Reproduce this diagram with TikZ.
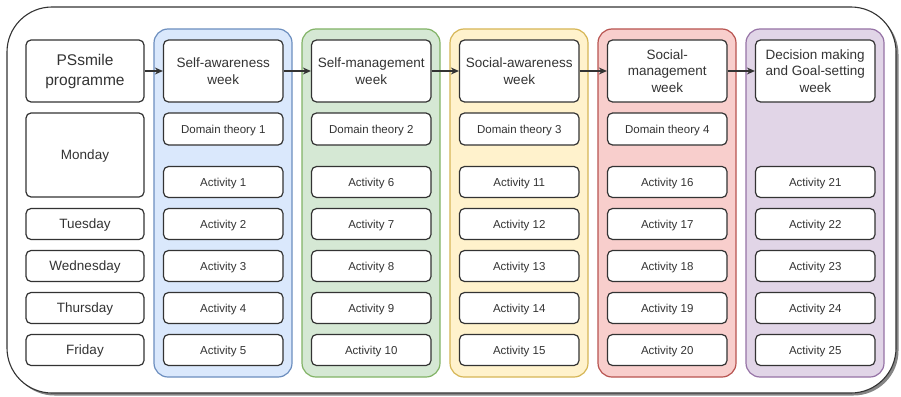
\documentclass[tikz,border=0pt]{standalone}
\usepackage{fontspec}
\setmainfont{Liberation Sans}
\usetikzlibrary{arrows.meta,shadows}
\definecolor{ink}{HTML}{333333}
\definecolor{blueF}{HTML}{DAE8FC}\definecolor{blueD}{HTML}{6C8EBF}
\definecolor{greenF}{HTML}{D5E8D4}\definecolor{greenD}{HTML}{82B366}
\definecolor{yellowF}{HTML}{FFF2CC}\definecolor{yellowD}{HTML}{D6B656}
\definecolor{redF}{HTML}{F8CECC}\definecolor{redD}{HTML}{B85450}
\definecolor{purpleF}{HTML}{E1D5E7}\definecolor{purpleD}{HTML}{9673A6}
\tikzset{
  frame/.style={draw=ink, line width=1.1pt, fill=white, rounded corners=45pt,
    drop shadow={shadow xshift=2.5pt, shadow yshift=-2.5pt, opacity=0.6, fill=black!80}},
  lane/.style={line width=1.2pt, rounded corners=14pt},
  cell/.style={draw=ink, line width=1.2pt, fill=white, rounded corners=5pt,
    inner sep=0pt, align=center, text=ink},
  daybox/.style={cell, minimum width=118pt, text height=9.7pt, text depth=0pt,
    font=\fontsize{13.5}{16.8}\selectfont},
  progbox/.style={cell, minimum width=118pt, minimum height=62pt, font=\fontsize{15.5}{20}\selectfont},
  weekbox/.style={cell, minimum width=119.5pt, minimum height=62pt, font=\fontsize{13.5}{16.7}\selectfont},
  actbox/.style={cell, minimum width=119.5pt, minimum height=31pt, text height=8.2pt, text depth=0pt,
    font=\fontsize{11.5}{14}\selectfont},
  arr/.style={draw=ink, line width=1.2pt, -{Stealth[length=8pt,width=7pt]}}
}
\begin{document}
\begin{tikzpicture}[x=1pt, y=-1pt]
\useasboundingbox (0,0) rectangle (901,396);

% outer frame
\path[frame] (7,7) rectangle (896,393);

% coloured lanes, one per week
\foreach \k/\f/\d in {0/blueF/blueD, 1/greenF/greenD, 2/yellowF/yellowD, 3/redF/redD, 4/purpleF/purpleD}{
  \path[lane, fill=\f, draw=\d] ({154+148*\k},29) rectangle ({292+148*\k},377);
}

% left column: programme and weekdays
\node[progbox] (prog) at (85,71) {PSsmile\\programme};
\node[daybox, minimum height=84pt] (mon) at (85,155) {Monday};
\node[daybox, minimum height=31pt] (tue) at (85,224) {Tuesday};
\node[daybox, minimum height=31pt] (wed) at (85,266) {Wednesday};
\node[daybox, minimum height=31pt] (thu) at (85,308) {Thursday};
\node[daybox, minimum height=31pt] (fri) at (85,350) {Friday};

% week headers
\node[weekbox] (week1) at (223.25,71) {Self-awareness\\week};
\node[weekbox] (week2) at (371.25,71) {Self-management\\week};
\node[weekbox] (week3) at (519.25,71) {Social-awareness\\week};
\node[weekbox] (week4) at (667.25,71) {Social-\\management\\week};
\node[weekbox] (week5) at (815.25,71) {Decision making\\and Goal-setting\\week};

% domain theories
\foreach \k in {1,...,4}{
  \node[actbox, minimum height=32pt] (dom\k) at ({223.25+148*(\k-1)},129) {Domain theory \k};
}

% daily activities
\foreach \k in {1,...,5}{
  \foreach \r/\y in {1/182, 2/224, 3/266, 4/308, 5/350}{
    \pgfmathtruncatemacro{\n}{5*(\k-1)+\r}
    \node[actbox] (act\n) at ({223.25+148*(\k-1)},\y) {Activity \n};
  }
}

% sequence arrows
\draw[arr] (prog.east) -- (week1.west);
\draw[arr] (week1.east) -- (week2.west);
\draw[arr] (week2.east) -- (week3.west);
\draw[arr] (week3.east) -- (week4.west);
\draw[arr] (week4.east) -- (week5.west);
\end{tikzpicture}
\end{document}
